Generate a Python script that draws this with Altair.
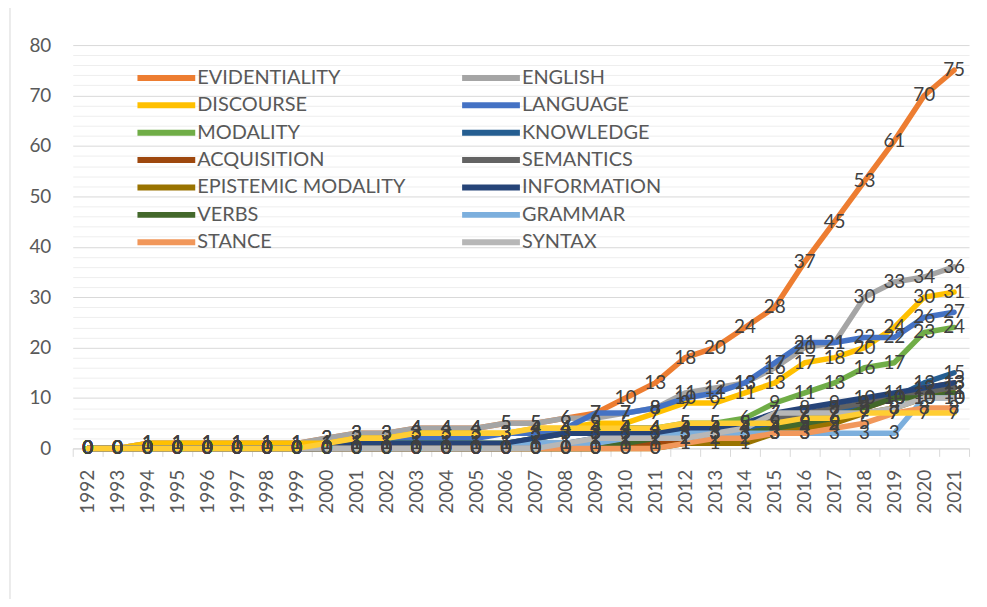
import altair as alt
import pandas as pd

years = list(range(1992, 2022))

series_names = [
    "EVIDENTIALITY", "ENGLISH", "DISCOURSE", "LANGUAGE", "MODALITY",
    "KNOWLEDGE", "ACQUISITION", "SEMANTICS", "EPISTEMIC MODALITY",
    "INFORMATION", "VERBS", "GRAMMAR", "STANCE", "SYNTAX", "SERIES 15",
]
series_colors = [
    "#ED7D31", "#A5A5A5", "#FFC000", "#4472C4", "#70AD47",
    "#255E91", "#9E480E", "#636363", "#997300",
    "#264478", "#43682B", "#7CAFDD", "#F1975A", "#B7B7B7", "#FFCD33",
]

evidentiality = [0, 0, 1, 1, 1, 1, 1, 1, 2, 3, 3, 4, 4, 4, 5, 5, 6, 7, 10, 13, 18, 20, 24, 28, 37, 45, 53, 61, 70, 75]
english =       [0, 0, 1, 1, 1, 1, 1, 1, 2, 3, 3, 4, 4, 4, 5, 5, 6, 6, 7, 8, 11, 12, 13, 16, 20, 21, 30, 33, 34, 36]
discourse =     [0, 0, 1, 1, 1, 1, 1, 1, 1, 2, 2, 3, 3, 3, 3, 4, 4, 5, 5, 7, 9, 9, 11, 13, 17, 18, 20, 24, 30, 31]
language =      [0, 0, 0, 0, 0, 0, 0, 0, 0, 1, 1, 2, 2, 2, 3, 3, 4, 7, 7, 8, 10, 11, 13, 17, 21, 21, 22, 22, 26, 27]
modality =      [0, 0, 0, 0, 0, 0, 0, 0, 0, 1, 1, 1, 1, 1, 1, 2, 3, 3, 4, 4, 5, 5, 6, 9, 11, 13, 16, 17, 23, 24]
knowledge =     [0, 0, 0, 0, 0, 0, 0, 0, 0, 0, 0, 0, 0, 0, 0, 1, 1, 2, 2, 2, 3, 3, 4, 5, 6, 7, 9, 10, 13, 15]
acquisition =   [0, 0, 0, 0, 0, 0, 0, 0, 0, 0, 0, 0, 0, 0, 0, 0, 0, 0, 1, 1, 2, 2, 3, 4, 5, 6, 8, 10, 12, 13]
semantics =     [0, 0, 0, 0, 0, 0, 0, 0, 0, 0, 0, 0, 0, 0, 1, 2, 3, 3, 4, 4, 4, 4, 5, 6, 7, 8, 9, 10, 11, 12]
epistemic =     [0, 0, 0, 0, 0, 0, 0, 0, 0, 0, 0, 0, 0, 0, 0, 0, 0, 0, 0, 0, 1, 1, 1, 3, 4, 5, 7, 8, 10, 11]
information =   [0, 0, 0, 0, 0, 0, 0, 0, 0, 1, 1, 1, 1, 1, 1, 2, 3, 3, 3, 3, 4, 4, 5, 7, 8, 9, 10, 11, 12, 13]
verbs =         [0, 0, 0, 0, 0, 0, 0, 0, 0, 0, 0, 0, 0, 0, 0, 0, 0, 0, 1, 2, 2, 3, 3, 4, 5, 6, 8, 10, 10, 11]
grammar =       [0, 0, 0, 0, 0, 0, 0, 0, 0, 0, 0, 0, 0, 0, 0, 1, 1, 1, 2, 2, 3, 3, 3, 3, 3, 3, 3, 3, 10, 10]
stance =        [0, 0, 0, 0, 0, 0, 0, 0, 0, 0, 0, 0, 0, 0, 0, 0, 0, 0, 0, 0, 1, 2, 2, 3, 3, 4, 5, 7, 8, 8]
syntax =        [0, 0, 0, 0, 0, 0, 0, 0, 0, 0, 0, 0, 0, 0, 0, 0, 1, 2, 2, 2, 2, 3, 4, 7, 7, 7, 7, 8, 10, 10]
series15 =      [0, 0, 0, 0, 0, 0, 0, 0, 1, 2, 2, 3, 3, 3, 3, 4, 4, 4, 4, 4, 5, 5, 5, 5, 6, 6, 7, 7, 7, 7]

y_ticks = list(range(0, 81, 2))

all_values = [evidentiality, english, discourse, language, modality, knowledge,
              acquisition, semantics, epistemic, information, verbs, grammar,
              stance, syntax, series15]

rows = []
for i, (name, vals) in enumerate(zip(series_names, all_values)):
    for y, v in zip(years, vals):
        rows.append({"series": name, "order": i, "year": str(y), "value": v})
df = pd.DataFrame(rows)

FONT = "Lato"
legend_names = series_names[:14]

color_scale = alt.Scale(domain=series_names, range=series_colors)
x_enc = alt.X(
    "year:O",
    scale=alt.Scale(type="band", paddingInner=0, paddingOuter=0),
    axis=alt.Axis(
        title=None, labelAngle=270, labelFontSize=19, labelColor="#595959",
        labelFont=FONT, domainColor="#D9D9D9", tickColor="#D9D9D9", tickSize=8,
        tickBand="extent", labelPadding=13, grid=False, labelAlign="right",
        labelBaseline="middle",
    ),
)
y_scale = alt.Scale(domain=[0, 80], nice=False)
y_axis = alt.Axis(
    title=None, values=y_ticks, grid=True,
    gridColor={"condition": {"test": "datum.value % 10 === 0", "value": "#D9D9D9"},
               "value": "#EEEEEE"},
    gridWidth=1,
    labelExpr="datum.value % 10 === 0 ? datum.label : ''",
    labelFontSize=19, labelColor="#595959", labelFont=FONT,
    ticks=False, domain=False, labelPadding=22,
)
y_enc = alt.Y("value:Q", scale=y_scale, axis=y_axis)

legend = alt.Legend(
    title=None, orient="none", legendX=81, legendY=20, columns=2,
    direction="horizontal",
    values=legend_names, symbolType="M-3,0H3", symbolSize=374,
    symbolStrokeWidth=6, labelFontSize=20, labelColor="#595959", labelFont=FONT,
    rowPadding=2.5, columnPadding=43, labelOffset=18, labelLimit=400, padding=0,
)

line_layers = []
for idx, name in enumerate(series_names):
    line_layers.append(
        alt.Chart(df[df["series"] == name]).mark_line(
            strokeWidth=5.5, strokeCap="round", strokeJoin="round"
        ).encode(
            x=x_enc,
            y=y_enc,
            color=alt.Color("series:N", scale=color_scale, legend=legend),
        )
    )

labels = alt.Chart(df).mark_text(
    fontSize=19, color="#404040", font=FONT, align="center", baseline="middle"
).encode(
    x=x_enc,
    y=y_enc,
    text="value:Q",
    order="order:Q",
)

# chart-area border on the left edge (decoration)
border = alt.Chart(df.head(1)).mark_rule(color="#D9D9D9", strokeWidth=1).encode(
    x=alt.value(-63), y=alt.value(-44), y2=alt.value(570)
)

chart = alt.layer(border, *line_layers, labels).properties(
    width=900, height=405,
    autosize=alt.AutoSizeParams(type="none"),
    padding={"left": 65, "top": 36, "right": 10, "bottom": 150},
).configure(background="white", view=alt.ViewConfig(stroke=None))

chart.save("out.html", embed_options={"renderer": "svg", "actions": False})
